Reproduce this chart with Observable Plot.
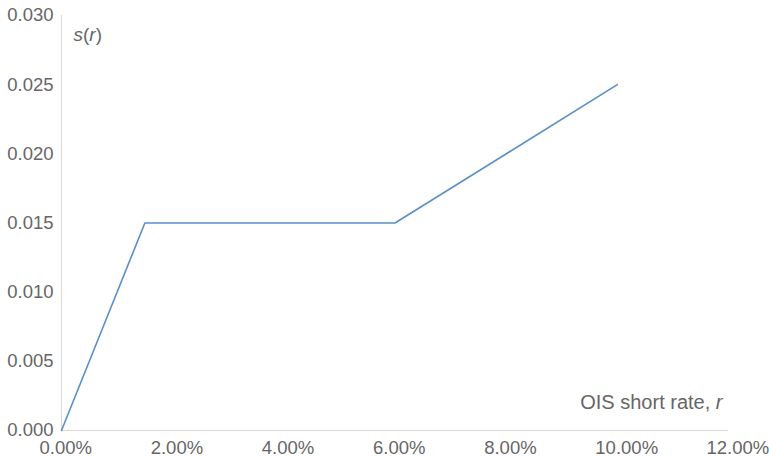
<!DOCTYPE html>
<html>
<head>
<meta charset="utf-8">
<script src="https://cdn.jsdelivr.net/npm/d3@7"></script>
<script src="https://cdn.jsdelivr.net/npm/@observablehq/plot@0.6"></script>
<style>
  body { margin: 0; background: #fff; }
  #chart svg { display: block; }
</style>
</head>
<body>
<div id="chart"></div>
<script>
const rates = [0, 0.015, 0.06, 0.10];
const spreads = [0, 0.015, 0.015, 0.025];
const xTicks = [0, 0.02, 0.04, 0.06, 0.08, 0.10, 0.12];
const yTicks = [0, 0.005, 0.010, 0.015, 0.020, 0.025, 0.030];

const data = rates.map((r, i) => ({r, s: spreads[i]}));
const gray = "#666666";
const font = "Liberation Sans, Arial, sans-serif";

const chart = Plot.plot({
  width: 769,
  height: 457,
  marginLeft: 61,
  marginRight: 41,
  marginTop: 15,
  marginBottom: 27,
  style: {fontFamily: font, fontSize: "18.5px", color: gray, background: "#fff"},
  x: {domain: [0, 0.12], label: null},
  y: {domain: [0, 0.03], label: null},
  marks: [
    Plot.axisX({ticks: xTicks, tickFormat: d => (d * 100).toFixed(2) + "%", tickSize: 0, tickPadding: 10, textAnchor: "start", dx: -22, fill: gray, label: null}),
    Plot.axisY({ticks: yTicks, tickFormat: d => d.toFixed(3), tickSize: 0, tickPadding: 8, fill: gray, label: null}),
    Plot.ruleY([0], {stroke: "#d9d9d9", strokeWidth: 1}),
    Plot.ruleX([0], {stroke: "#d9d9d9", strokeWidth: 1}),
    Plot.line(data, {x: "r", y: "s", stroke: "#5b8fc7", strokeWidth: 1.6}),
    Plot.text(["s(r)"], {frameAnchor: "top-left", dx: 12, dy: 12, text: d => d, fill: gray, fontSize: 19, textAnchor: "start", className: "ylab"}),
    Plot.text(["OIS short rate, r"], {frameAnchor: "bottom-right", dx: -6, dy: -22, text: d => d, fill: gray, fontSize: 20, textAnchor: "end", className: "xlab"})
  ]
});

document.getElementById("chart").appendChild(chart);

// italic variables
const svg = d3.select(chart);
svg.selectAll(".ylab text").each(function() {
  const t = d3.select(this);
  t.text(null);
  t.append("tspan").attr("font-style", "italic").text("s");
  t.append("tspan").text("(");
  t.append("tspan").attr("font-style", "italic").text("r");
  t.append("tspan").text(")");
});
svg.selectAll(".xlab text").each(function() {
  const t = d3.select(this);
  t.text(null);
  t.append("tspan").text("OIS short rate, ");
  t.append("tspan").attr("font-style", "italic").text("r");
});
</script>
</body>
</html>
